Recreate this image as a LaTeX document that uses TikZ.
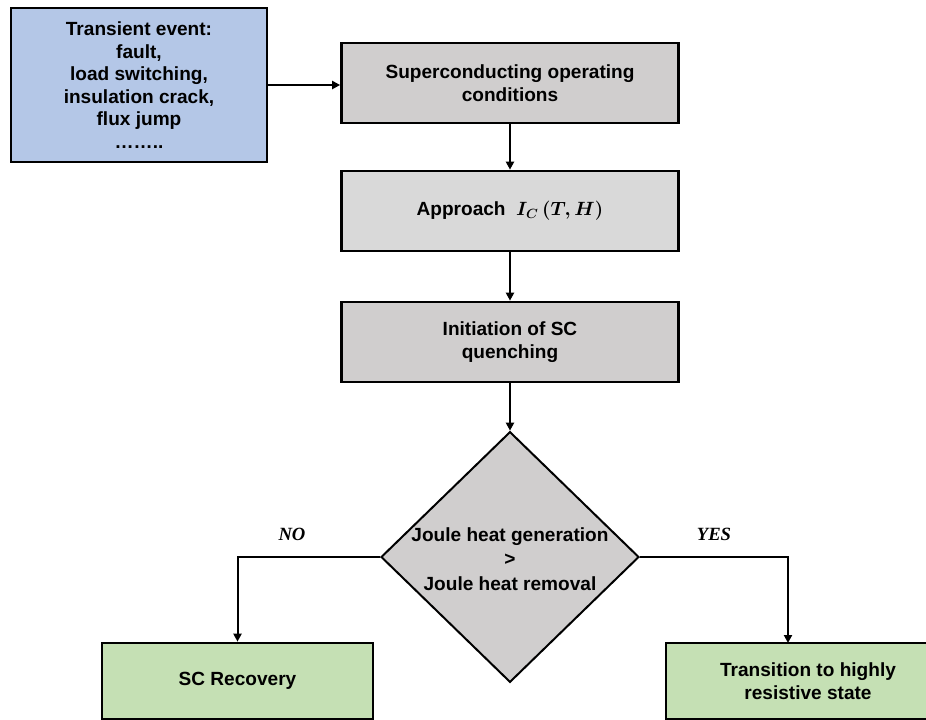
\documentclass[tikz,border=0pt]{standalone}
\usepackage{amsmath}
\usepackage[no-math]{fontspec}
\setmainfont{Liberation Sans}
\newfontfamily\labelserif{Liberation Serif}
\usetikzlibrary{arrows.meta,shapes.geometric}

\definecolor{eventblue}{HTML}{B4C7E7}
\definecolor{stepgray}{HTML}{D0CECE}
\definecolor{lightgray}{HTML}{D9D9D9}
\definecolor{outgreen}{HTML}{C5E0B4}

\tikzset{
  txt/.style={font=\bfseries\fontsize{14.3}{16.9}\selectfont, align=center},
  flowbox/.style={txt, draw=black, line width=2pt, inner sep=0pt,
                  minimum width=252.75pt, minimum height=60pt},
  conn/.style={line width=1.5pt, -{Triangle[length=6pt,width=6pt]}},
  branchlabel/.style={font=\labelserif\bfseries\itshape\fontsize{14}{16}\selectfont}
}

\begin{document}
\begin{tikzpicture}[x=0.75pt,y=-0.75pt]
  \useasboundingbox (0,0) rectangle (926,719);

  % triggering event
  \node[flowbox, fill=eventblue, minimum width=192pt, minimum height=115.5pt]
    (event) at (139,85)
    {Transient event:\\fault,\\load switching,\\insulation crack,\\flux jump\\……..};

  % main chain
  \node[flowbox, fill=stepgray] (sc) at (510,83)
    {Superconducting operating\\conditions};
  \node[flowbox, fill=lightgray] (ic) at (510,211)
    {Approach\ \ $\boldsymbol{I_C\,(T,H)}$};
  \node[flowbox, fill=stepgray] (init) at (510,342)
    {Initiation of SC\\quenching};

  % decision
  \node[diamond, draw=black, fill=stepgray, line width=1.5pt, inner sep=0pt,
        minimum width=193.5pt, minimum height=188pt] (dec) at (510,557) {};
  \node[txt, font=\bfseries\fontsize{14.3}{18.4}\selectfont] (dectext) at (510,559)
    {Joule heat generation\\>\\Joule heat removal};

  % outcomes
  \node[flowbox, fill=outgreen, minimum width=203.25pt, minimum height=57pt]
    (rec) at (237.5,681) {SC Recovery};
  \node[flowbox, fill=outgreen, minimum width=213pt, minimum height=57pt]
    (trans) at (808,681) {Transition to highly\\resistive state};
  \coordinate (yesdrop) at (788,643);

  % branch labels
  \node[branchlabel] (no) at (292,534) {NO};
  \node[branchlabel] (yes) at (714,534) {YES};

  % connectors
  \draw[conn] (event.east) -- (event.east -| sc.west);
  \draw[conn] (sc.south) -- (ic.north);
  \draw[conn] (ic.south) -- (init.north);
  \draw[conn] (init.south) -- (dec.north);
  \draw[conn] (dec.west) -| (rec.north);
  \draw[conn] (dec.east) -| (yesdrop);
\end{tikzpicture}
\end{document}
